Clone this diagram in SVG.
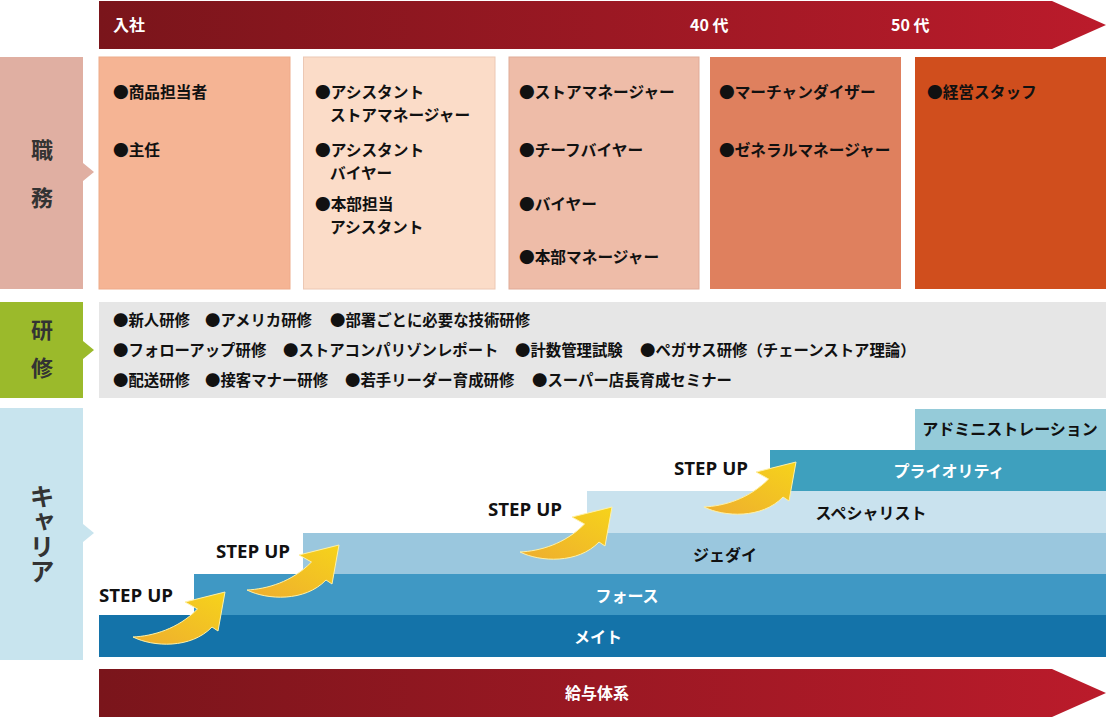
<svg xmlns="http://www.w3.org/2000/svg" xmlns:xlink="http://www.w3.org/1999/xlink" width="1106" height="717" viewBox="0 0 1106 717">
<style>
text{font-family:"Noto Sans CJK JP","Noto Sans",sans-serif;font-weight:bold;dominant-baseline:central}
.d{font-size:15.7px;fill:#111}
.t{font-size:15.4px;fill:#111}
.lbl{font-size:22px;fill:#333;text-anchor:middle}
.w{fill:#fff}
.k{fill:#111}
.c{font-size:16px;text-anchor:middle}
.su{font-family:"Open Sans","Liberation Sans",sans-serif;font-size:18px;fill:#111}
.hd{font-size:16px;fill:#fff}
</style>
<defs>
<linearGradient id="red" x1="0" y1="0" x2="1" y2="0">
<stop offset="0" stop-color="#7a151b"/>
<stop offset="1" stop-color="#bb1b2b"/>
</linearGradient>
<linearGradient id="yel" x1="0" y1="1" x2="1" y2="0">
<stop offset="0" stop-color="#eead2f"/>
<stop offset="1" stop-color="#f6d31b"/>
</linearGradient>
<path id="arw" d="M0,0 C20,10 58,12 79,-10 L85,-6 L92,-45 L52,-35 L64.5,-28 C45,-8 20,-1 0,0 Z" fill="url(#yel)" stroke="#fff1a6" stroke-width="1"/>
</defs>
<rect width="1106" height="717" fill="#fff"/>

<g id="age-arrow">
<path d="M99,1 H1052 L1106,25 L1052,49 H99 Z" fill="url(#red)"/>
<text class="hd" x="113" y="23.5">入社</text>
<text class="hd" x="690" y="23.5">40 代</text>
<text class="hd" x="891" y="23.5">50 代</text>
</g>

<g id="label-duty">
<path d="M0,57 H83 V163 L94,172 L83,181 V289 H0 Z" fill="#e0afa2"/>
<text class="lbl" x="42" y="148">職</text>
<text class="lbl" x="42" y="196">務</text>
</g>

<g id="duty-1">
<rect x="99" y="57" width="191" height="232" fill="#f5b494" stroke="#eeab8a" stroke-width="1"/>
<text class="d" x="113" y="91">●商品担当者</text>
<text class="d" x="113" y="149">●主任</text>
</g>
<g id="duty-2">
<rect x="303.5" y="57" width="191.5" height="232" fill="#fbdcc8" stroke="#ecc8b4" stroke-width="1"/>
<text class="d" x="315" y="91">●アシスタント</text>
<text class="d" x="330" y="114">ストアマネージャー</text>
<text class="d" x="315" y="149">●アシスタント</text>
<text class="d" x="330" y="172">バイヤー</text>
<text class="d" x="315" y="203">●本部担当</text>
<text class="d" x="330" y="226">アシスタント</text>
</g>
<g id="duty-3">
<rect x="509" y="57" width="190" height="232" fill="#eebca8" stroke="#e0ab98" stroke-width="1"/>
<text class="d" x="519" y="91">●ストアマネージャー</text>
<text class="d" x="519" y="149">●チーフバイヤー</text>
<text class="d" x="519" y="203">●バイヤー</text>
<text class="d" x="519" y="256">●本部マネージャー</text>
</g>
<g id="duty-4">
<rect x="710" y="57" width="191" height="232" fill="#df805e"/>
<text class="d" x="719" y="91">●マーチャンダイザー</text>
<text class="d" x="719" y="149">●ゼネラルマネージャー</text>
</g>
<g id="duty-5">
<rect x="915" y="57" width="191" height="232" fill="#d04e1d"/>
<text class="d" x="927" y="91">●経営スタッフ</text>
</g>

<g id="label-training">
<path d="M0,302 H83 V341 L94,350 L83,359 V398 H0 Z" fill="#9bba2b"/>
<text class="lbl" x="42" y="328">研</text>
<text class="lbl" x="42" y="366">修</text>
</g>
<g id="training">
<rect x="99" y="302" width="1007" height="96" fill="#e6e6e6"/>
<text class="t" x="113" y="318.5">●新人研修</text>
<text class="t" x="205" y="318.5">●アメリカ研修</text>
<text class="t" x="330" y="318.5">●部署ごとに必要な技術研修</text>
<text class="t" x="113" y="348.5">●フォローアップ研修</text>
<text class="t" x="283" y="348.5">●ストアコンパリゾンレポート</text>
<text class="t" x="515" y="348.5">●計数管理試験</text>
<text class="t" x="640" y="348.5">●ペガサス研修（チェーンストア理論）</text>
<text class="t" x="113" y="378.5">●配送研修</text>
<text class="t" x="205" y="378.5">●接客マナー研修</text>
<text class="t" x="345" y="378.5">●若手リーダー育成研修</text>
<text class="t" x="532" y="378.5">●スーパー店長育成セミナー</text>
</g>

<g id="label-career">
<path d="M0,408 H83 V524 L94,533 L83,542 V660 H0 Z" fill="#c8e4ee"/>
<text class="lbl" x="42" y="534" style="font-size:25px;writing-mode:vertical-rl">キャリア</text>
</g>

<g id="step-mate">
<rect x="99" y="615" width="1007" height="42" fill="#1473a9"/>
<text class="c w" x="598" y="636">メイト</text>
</g>
<g id="step-force">
<rect x="194" y="574" width="912" height="41" fill="#3f98c4"/>
<text class="c w" x="627" y="595">フォース</text>
</g>
<g id="step-jedi">
<rect x="303" y="533" width="803" height="41" fill="#9ac7de"/>
<text class="c k" x="725" y="554">ジェダイ</text>
</g>
<g id="step-specialist">
<rect x="587" y="491" width="519" height="42" fill="#c9e2ee"/>
<text class="c k" x="871" y="512">スペシャリスト</text>
</g>
<g id="step-priority">
<rect x="770" y="450" width="336" height="41" fill="#3ea0be"/>
<text class="c w" x="949" y="470">プライオリティ</text>
</g>
<g id="step-admin">
<rect x="915" y="409" width="191" height="41" fill="#95cbd9"/>
<text class="c k" x="1010" y="428">アドミニストレーション</text>
</g>

<g id="stepup-labels">
<text class="su" x="99" y="595" textLength="74" lengthAdjust="spacingAndGlyphs">STEP UP</text>
<text class="su" x="216" y="551" textLength="74" lengthAdjust="spacingAndGlyphs">STEP UP</text>
<text class="su" x="488" y="509" textLength="74" lengthAdjust="spacingAndGlyphs">STEP UP</text>
<text class="su" x="674" y="468" textLength="74" lengthAdjust="spacingAndGlyphs">STEP UP</text>
</g>

<g id="connectors">
<use xlink:href="#arw" href="#arw" transform="translate(133,637)"/>
<use xlink:href="#arw" href="#arw" transform="translate(247,590)"/>
<use xlink:href="#arw" href="#arw" transform="translate(520,552)"/>
<use xlink:href="#arw" href="#arw" transform="translate(704,507)"/>
</g>

<g id="salary-arrow">
<path d="M99,669 H1052 L1106,693 L1052,717 H99 Z" fill="url(#red)"/>
<text class="c w" x="597" y="692">給与体系</text>
</g>
</svg>
